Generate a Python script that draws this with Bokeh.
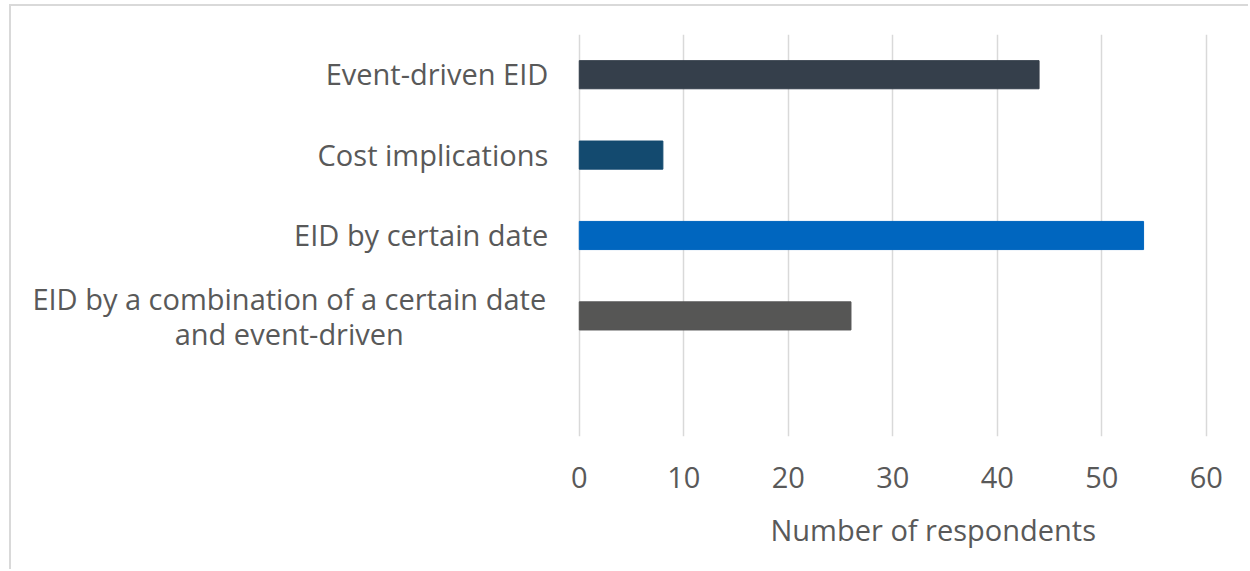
from bokeh.plotting import figure
from bokeh.models import Range1d, FactorRange, ColumnDataSource, FixedTicker, Title
from bokeh.core.properties import value
from bokeh.embed import file_html
from bokeh.resources import INLINE

# Survey results: how respondents expect EID to be set
categories = [
    "Event-driven EID",
    "Cost implications",
    "EID by certain date",
    "EID by a combination of a certain date\nand event-driven",
]
respondents = [44, 8, 54, 26]
bar_colors = ["#353F4B", "#134A6F", "#0066BF", "#565655"]
x_ticks = [0, 10, 20, 30, 40, 50, 60]
x_title = "Number of respondents"

FONT = "Open Sans"
TEXT_COLOR = "#595959"
FS = "29px"
BORDER = "2px solid #D9D9D9"

# canvas geometry (px): the frame also holds the category labels on its left
CANVAS_W, CANVAS_H = 1239, 565
RIGHT_PAD = 39
PX_PER_UNIT = 10.45
X_END = 60.5
X_START = X_END - (CANVAS_W - RIGHT_PAD) / PX_PER_UNIT

# keep an empty slot under the last bar
slots = [f"c{i}" for i in range(len(categories))] + ["blank"]

p = figure(
    width=CANVAS_W, height=CANVAS_H,
    y_range=FactorRange(factors=list(reversed(slots))),
    x_range=Range1d(X_START, X_END),
    output_backend="svg", toolbar_location=None,
    min_border_left=0, min_border_right=RIGHT_PAD,
    min_border_top=28, min_border_bottom=135,
    styles={"margin-left": "9px", "margin-top": "4px",
            "border-left": BORDER, "border-top": BORDER},
)
p.outline_line_color = None
p.background_fill_color = "white"
p.border_fill_color = "white"

src = ColumnDataSource(dict(slot=slots[:-1], value=respondents, color=bar_colors))
p.hbar(y="slot", left=0, right="value", height=0.35, color="color", source=src)

# category labels to the left of the value axis
single = ColumnDataSource(dict(
    slot=[s for s, c in zip(slots, categories) if "\n" not in c],
    label=[c for c in categories if "\n" not in c],
))
p.text(x=0, y="slot", text="label", source=single, x_offset=-31, y_offset=-1,
       text_align="right", text_baseline="middle",
       text_font=value(FONT), text_font_size=FS, text_color=TEXT_COLOR)
multi = ColumnDataSource(dict(
    slot=[s for s, c in zip(slots, categories) if "\n" in c],
    label=[c for c in categories if "\n" in c],
))
p.text(x=0, y="slot", text="label", source=multi, x_offset=-290,
       text_align="center", text_baseline="middle", text_line_height=0.9,
       text_font=value(FONT), text_font_size=FS, text_color=TEXT_COLOR)

p.yaxis.visible = False
p.ygrid.grid_line_color = None
p.xgrid.grid_line_color = "#D9D9D9"
p.xgrid.grid_line_width = 1.5
p.xaxis.ticker = FixedTicker(ticks=x_ticks)
p.xaxis.axis_line_color = None
p.xaxis.major_tick_line_color = None
p.xaxis.minor_tick_line_color = None
p.xaxis.major_label_standoff = 24
p.xaxis.major_label_text_font = FONT
p.xaxis.major_label_text_font_size = FS
p.xaxis.major_label_text_color = TEXT_COLOR

# value-axis title under the value scale
p.add_layout(Title(text=x_title, align="left", offset=759,
                   standoff=34, text_font=FONT, text_font_size=FS,
                   text_font_style="normal", text_color=TEXT_COLOR), "below")

open("out.html", "w").write(file_html(p, INLINE))
